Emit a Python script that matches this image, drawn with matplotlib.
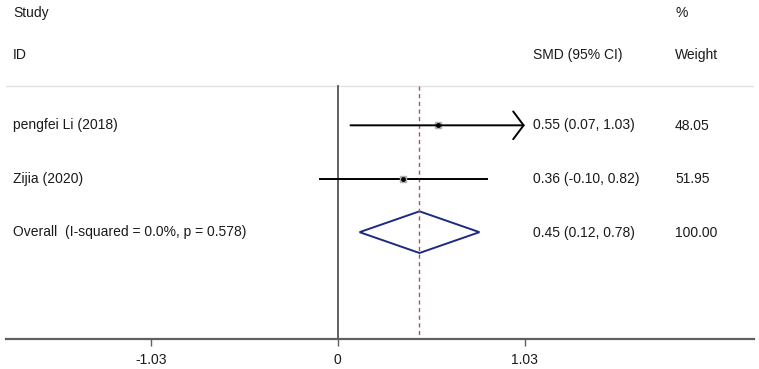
import matplotlib
matplotlib.use("Agg")
import matplotlib.pyplot as plt

plt.rcParams['font.family'] = ['Liberation Sans', 'DejaVu Sans']

studies = ["pengfei Li (2018)", "Zijia (2020)"]
smd = [0.55, 0.36]
lower = [0.07, -0.10]
upper = [1.03, 0.82]
weights = ["48.05", "51.95"]

overall_label = "Overall  (I-squared = 0.0%, p = 0.578)"
overall = 0.45
overall_lo = 0.12
overall_hi = 0.78

ticks = [-1.03, 0, 1.03]
tick_labels = ["-1.03", "0", "1.03"]

W, H = 759, 369
fig = plt.figure(figsize=(W / 100, H / 100), dpi=100)
ax = fig.add_axes([6 / W, (H - 339) / H, 748 / W, 339 / H])
ax.set_xlim(-1.827, 2.292)
ax.set_ylim(5, -1.346)

fs = 10
txt = '#1a1a1a'

# header
fig.text(13 / W, 1 - 13 / H, "Study", fontsize=fs, color=txt, va='center')
fig.text(13 / W, 1 - 55 / H, "ID", fontsize=fs, color=txt, va='center')
fig.text(675 / W, 1 - 13 / H, "%", fontsize=fs, color=txt, va='center')
fig.text(533 / W, 1 - 55 / H, "SMD (95% CI)", fontsize=fs, color=txt, va='center')
fig.text(675 / W, 1 - 55 / H, "Weight", fontsize=fs, color=txt, va='center')

# faint separator under header
ax.axhline(0.262, color='#e2e2e2', lw=1.0)

# reference lines
ax.plot([0, 0], [0.262, 5], color='#555555', lw=1.3)
ax.plot([overall, overall], [0.262, 5], color='#b84e58', lw=1.0, ls=(0, (3, 2.5)))

for i, name in enumerate(studies):
    y = i + 1
    if upper[i] >= 1.03:
        ax.annotate('', xy=(upper[i], y), xytext=(lower[i], y),
                    arrowprops=dict(arrowstyle='->,head_length=0.75,head_width=1.0',
                                    lw=1.4, color='black', shrinkA=0, shrinkB=0))
    else:
        ax.plot([lower[i], upper[i]], [y, y], color='black', lw=1.4)
    ax.plot(smd[i], y, marker='s', ms=5, color='#b0b0b0', mec='#b0b0b0')
    ax.plot(smd[i], y, marker='o', ms=2.5, color='black')
    ax.text(-1.827 + (13 - 6) / 181.6, y, name, fontsize=fs, color=txt, va='center')
    fig.text(533 / W, 1 - (125.5 + i * 53.5) / H,
             "%.2f (%.2f, %.2f)" % (smd[i], lower[i], upper[i]),
             fontsize=fs, color=txt, va='center')
    fig.text(675 / W, 1 - (125.5 + i * 53.5) / H, weights[i],
             fontsize=fs, color=txt, va='center')

# overall diamond
yo = 3
ax.fill([overall_lo, overall, overall_hi, overall, overall_lo],
        [yo, yo - 0.39, yo, yo + 0.39, yo], facecolor='none',
        edgecolor='#1c2a85', lw=1.4)
ax.text(-1.827 + (13 - 6) / 181.6, yo, overall_label, fontsize=fs, color=txt, va='center')
fig.text(533 / W, 1 - 232.5 / H,
         "%.2f (%.2f, %.2f)" % (overall, overall_lo, overall_hi),
         fontsize=fs, color=txt, va='center')
fig.text(675 / W, 1 - 232.5 / H, "100.00", fontsize=fs, color=txt, va='center')

for s in ['top', 'left', 'right']:
    ax.spines[s].set_visible(False)
ax.spines['bottom'].set_color('#606060')
ax.spines['bottom'].set_linewidth(1.6)
ax.set_yticks([])
ax.set_xticks(ticks)
ax.set_xticklabels(tick_labels, fontsize=fs, color=txt)
ax.tick_params(axis='x', colors='#606060', length=5, width=1, labelcolor=txt, pad=5)

fig.savefig("out.png", dpi=100)
